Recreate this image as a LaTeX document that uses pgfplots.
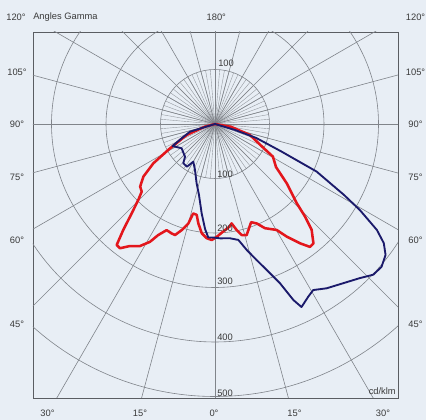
\documentclass[border=0pt]{standalone}
\usepackage{fontspec}
\setmainfont{Liberation Sans}
\usepackage{pgfplots}
\pgfplotsset{compat=1.18}
\definecolor{bg}{HTML}{E8EEF5}
\definecolor{gridc}{HTML}{80848A}
\definecolor{framec}{HTML}{5A5D62}
\definecolor{redc}{HTML}{E3161C}
\definecolor{bluec}{HTML}{1B1A6B}
\definecolor{txt}{HTML}{3A3A3A}
\begin{document}
\begin{tikzpicture}[font=\fontsize{7}{8}\selectfont]
\fill[bg] (-161.25pt,-222pt) rectangle (158.25pt,93pt);
\begin{axis}[at={(0,0)}, anchor=origin,
  x=0.40875pt, y=0.40875pt,
  xmin=-334, xmax=335.8, ymin=-502.75, ymax=168.8,
  xtick=\empty, ytick=\empty,
  axis line style={draw=framec, line width=0.6pt},
  axis background/.style={fill=bg}]
% grid: radial lines and circles
\pgfplotsinvokeforeach{0,5,...,355}{\draw[gridc!80!bg, line width=0.3pt] (axis cs:0,0) -- (axis cs:{100*cos(#1)},{100*sin(#1)});}
\pgfplotsinvokeforeach{0,15,...,345}{\draw[gridc, line width=0.45pt] (axis cs:0,0) -- (axis cs:{900*cos(#1)},{900*sin(#1)});}
\pgfplotsinvokeforeach{100,200,300,400,500}{\draw[gridc, line width=0.45pt] (axis cs:0,0) circle[radius=#1];}
% C0-C180 plane (red)
\addplot[redc, line width=1.9pt, line join=round, data cs=polar] coordinates {
(180,0) (195,20) (201.2,55.7) (208.4,93.8) (212.5,134) (216.3,163) (219.9,179) (222.7,183)
(224.7,198) (227,224) (229.1,257) (230.9,286) (232.6,287) (235.1,273) (238.4,263)
(241.1,247) (242.9,229) (245.5,214) (248.4,216) (250.2,216.5) (252.6,204) (255,189)
(256.3,169) (258.6,170) (260.5,185) (263.1,202) (265.8,210) (268.4,213) (270.9,207)
(273.5,200) (278.1,190) (279.5,185) (281.6,199) (283.5,209.5) (285.9,212) (290.2,192)
(292.8,198) (295.6,212) (300.2,225) (302.5,245) (305.5,269) (307.7,285) (309.5,284)
(312.4,263) (314.2,237) (315.9,209) (320.4,171) (324.8,137) (330.6,122) (333.6,100)
(342.6,67) (350,30) (360,0)};
% C90-C270 plane (blue)
\addplot[bluec, line width=1.4pt, line join=round, data cs=polar] coordinates {
(180,0) (197.1,48) (203.2,66.5) (207.4,87.8) (216.1,75.7) (227.5,81.4) (231.1,92.6)
(236.7,93.7) (240.1,79.8) (246.5,92) (252.8,114) (257.3,133.5) (261.5,165.7) (264.6,193.5)
(266.6,208.6) (269,208.3) (272.5,210) (277.5,211.5) (281.4,217) (284.1,238) (287,261)
(289.5,284) (292.2,315.7) (294,353.5) (295.3,371.5) (298.4,360) (300.6,354) (304.2,364.5)
(308.8,375) (313.2,388) (316.4,401) (319.4,402.6) (322.5,394.5) (324.8,379) (326.8,355)
(329.3,309) (331.2,270) (334.9,206) (337.5,132) (341.3,80) (343.3,38) (360,0)};
\end{axis}
\begin{scope}[every node/.style={text=txt, inner sep=0pt}]
\node at (-149.25pt,80.25pt) {120°};
\node[anchor=west] at (-136.5pt,80.25pt) {Angles Gamma};
\node at (1pt,80.25pt) {180°};
\node at (150.4pt,80.25pt) {120°};
\node at (-148.5pt,39pt) {105°};
\node at (-148.5pt,0pt) {90°};
\node at (-148.5pt,-39.75pt) {75°};
\node at (-148.5pt,-87pt) {60°};
\node at (-148.5pt,-150pt) {45°};
\node at (150.4pt,39pt) {105°};
\node at (150.4pt,0pt) {90°};
\node at (150.4pt,-39.75pt) {75°};
\node at (150.4pt,-87pt) {60°};
\node at (150.4pt,-150pt) {45°};
\node at (-125.6pt,-216.75pt) {30°};
\node at (-56.25pt,-216.75pt) {15°};
\node at (-0.75pt,-216.75pt) {0°};
\node at (59.6pt,-216.75pt) {15°};
\node at (126pt,-216.75pt) {30°};
\node[anchor=west] at (2.25pt,45.75pt) {100};
\node[anchor=west] at (1.5pt,-37.5pt) {100};
\node[anchor=west] at (1.5pt,-78pt) {200};
\node[anchor=west] at (1.5pt,-117.75pt) {300};
\node[anchor=west] at (1.5pt,-159.75pt) {400};
\node[anchor=west] at (1.5pt,-201.75pt) {500};
\node[anchor=east] at (135.75pt,-200.25pt) {cd/klm};
\end{scope}
\end{tikzpicture}
\end{document}
